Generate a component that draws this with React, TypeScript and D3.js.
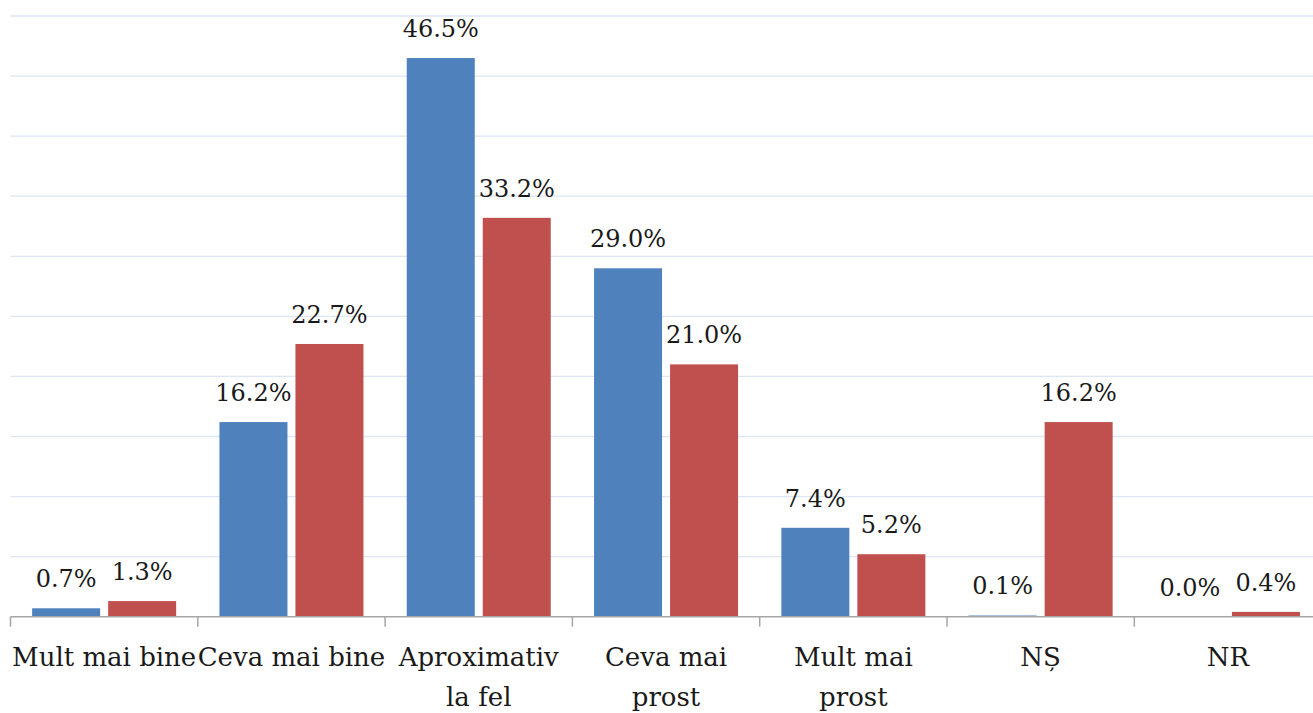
import React from "react";
import * as d3 from "d3";

const categories: string[][] = [
  ["Mult mai bine"],
  ["Ceva mai bine"],
  ["Aproximativ", "la fel"],
  ["Ceva mai", "prost"],
  ["Mult mai", "prost"],
  ["NȘ"],
  ["NR"],
];
const seriesA: number[] = [0.7, 16.2, 46.5, 29.0, 7.4, 0.1, 0.0];
const seriesB: number[] = [1.3, 22.7, 33.2, 21.0, 5.2, 16.2, 0.4];
const gridTicks: number[] = [5, 10, 15, 20, 25, 30, 35, 40, 45, 50];

const W = 1313;
const H = 713;
const FONT = "'Book Antiqua', 'Palatino Linotype', Palatino, 'DejaVu Serif', serif";

export default function App() {
  const left = 10.5;
  const right = 1321.6;
  const y0 = 616.7;
  const y = d3.scaleLinear().domain([0, 50]).range([y0, 16]);
  const idx = d3.range(categories.length);
  const x = d3.scaleBand<number>().domain(idx).range([left, right]).paddingInner(0).paddingOuter(0);
  const bw = x.bandwidth();
  const barW = 68;
  const gap = 8;
  const groupW = barW * 2 + gap;
  const series = [
    { vals: seriesA, color: "#4f81bd", off: 0 },
    { vals: seriesB, color: "#c0504d", off: barW + gap },
  ];
  return (
    <svg width={W} height={H} style={{ position: "absolute", left: 0, top: 0, background: "#fff" }}>
      {gridTicks.map((t) => (
        <line key={t} x1={left} x2={W} y1={y(t)} y2={y(t)} stroke="#dce6f4" strokeWidth={1.3} />
      ))}
      {series.map((s, si) =>
        s.vals.map((v, i) => {
          const gx = (x(i) as number) + (bw - groupW) / 2 + s.off;
          return (
            <g key={si + "-" + i}>
              <rect x={gx} y={y(v)} width={barW} height={y0 - y(v)} fill={s.color} />
              <text
                x={gx + barW / 2}
                y={y(v) - 21}
                textAnchor="middle"
                fontFamily={FONT}
                fontSize={24}
                fill="#1a1a1a"
              >
                {v.toFixed(1) + "%"}
              </text>
            </g>
          );
        })
      )}
      <line x1={left} x2={W} y1={y0} y2={y0} stroke="#a6a6a6" strokeWidth={1.5} />
      {d3.range(categories.length + 1).map((i) => {
        const tx = left + i * bw;
        return <line key={"t" + i} x1={tx} x2={tx} y1={y0} y2={y0 + 10} stroke="#a6a6a6" strokeWidth={1.5} />;
      })}
      {categories.map((lines, i) => (
        <text
          key={"c" + i}
          x={(x(i) as number) + bw / 2}
          textAnchor="middle"
          fontFamily={FONT}
          fontSize={26}
          fill="#1a1a1a"
        >
          {lines.map((l, li) => (
            <tspan key={li} x={(x(i) as number) + bw / 2} y={666 + li * 40}>
              {l}
            </tspan>
          ))}
        </text>
      ))}
    </svg>
  );
}
